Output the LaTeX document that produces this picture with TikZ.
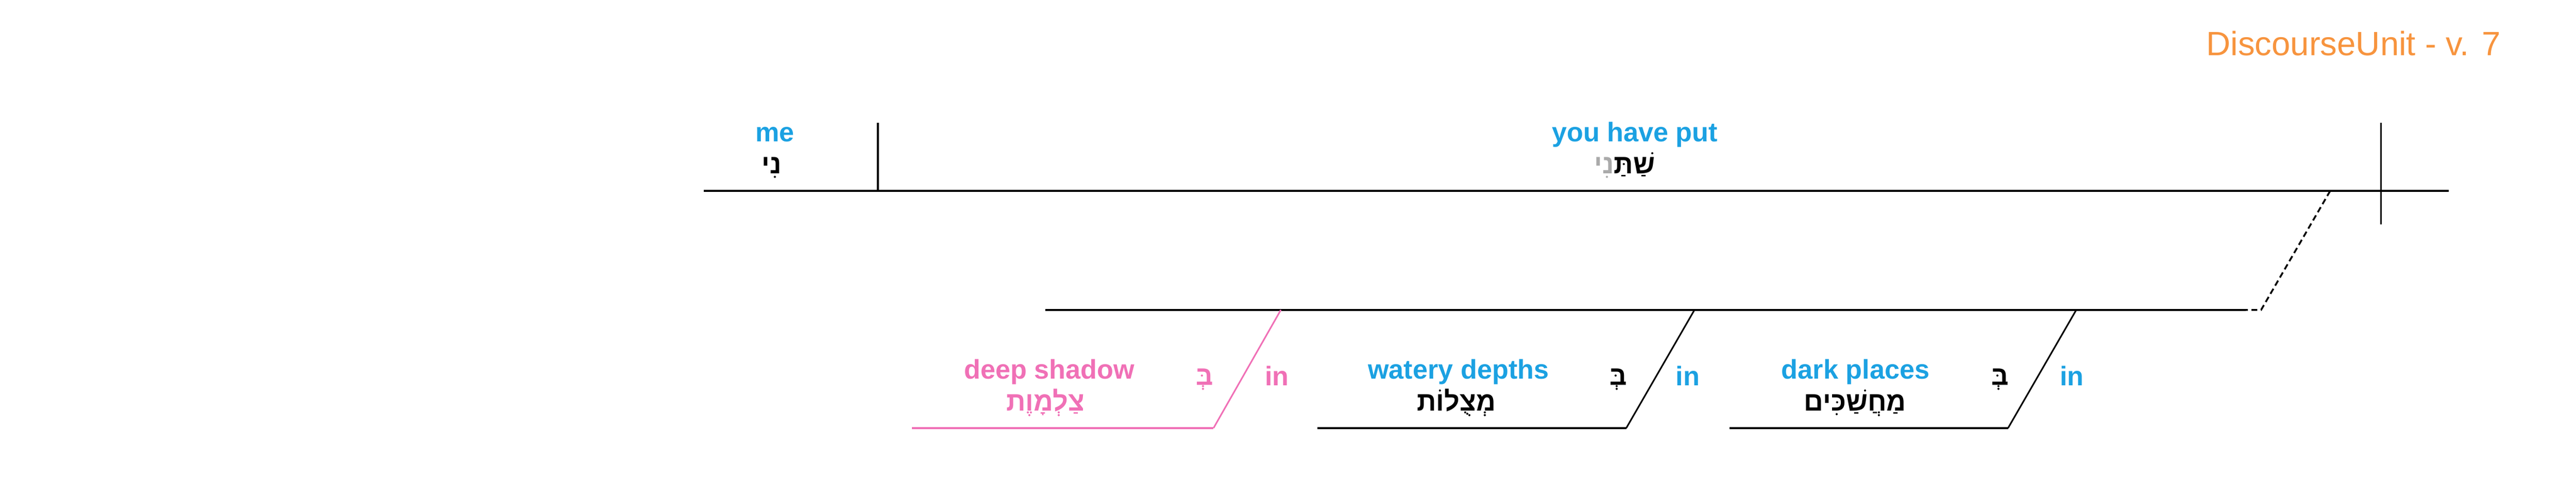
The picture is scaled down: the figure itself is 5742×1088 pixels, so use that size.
\documentclass[tikz,border=0pt]{standalone}
\usepackage{fontspec}
\setmainfont{Liberation Sans}
\newfontfamily\hebfont[Script=Hebrew]{Liberation Sans}
\TeXXeTstate=1
\definecolor{glossblue}{RGB}{27,161,226}
\definecolor{shadowpink}{RGB}{240,112,182}
\definecolor{titleorange}{RGB}{247,148,62}
\definecolor{suffixgray}{RGB}{170,170,170}

\begin{document}
\begin{tikzpicture}[x=1pt,y=-1pt,
    gloss/.style={font=\bfseries\fontsize{60}{72}\selectfont, text=glossblue, anchor=base, inner sep=0pt},
    heb/.style={font=\hebfont\bfseries\fontsize{60}{72}\selectfont, anchor=base, inner sep=0pt},
    rule/.style={line width=4pt},
    slant/.style={line width=3.5pt}]
          \useasboundingbox (0,0) rectangle (5742,1088);

          \node[anchor=base east, inner sep=0pt, text=titleorange, font=\fontsize{75}{90}\selectfont] (title) at (5574,124) {DiscourseUnit - v. 7};

          % main clause
          \node[gloss] (me) at (1727,315) {me};
          \node[heb] (meheb) at (1720,387) {\beginR נִי\endR};
          \node[gloss] (put) at (3644,315) {you have put};
          \node[heb] (putheb) at (3621,387) {\textcolor{suffixgray}{\beginR נִי\endR}\beginR שַׁתַּ\endR};

          \coordinate (topL) at (1569,425);
          \coordinate (topR) at (5458,425);
          \coordinate (sepT) at (1957,273);
          \coordinate (sepB) at (1957,425);
          \coordinate (stemT) at (5307,273);
          \coordinate (stemB) at (5307,500);
          \draw[rule] (topL) -- (topR);
          \draw[rule] (sepT) -- (sepB);
          \draw[rule] (stemT) -- (stemB);

          % modifier line
          \coordinate (dashT) at (5194,425);
          \coordinate (dashB) at (5040,690);
          \coordinate (midL) at (2330,690);
          \coordinate (midR) at (5006,690);
          \draw[rule] (midL) -- (midR);
          \draw[rule, dash pattern=on 13pt off 8pt] (dashT) -- (dashB) -- (midR);

          % in deep shadow
          \coordinate (shT) at (2855,690);
          \coordinate (shB) at (2705,953);
          \coordinate (shL) at (2033,953);
          \draw[slant, shadowpink] (shT) -- (shB);
          \draw[rule, shadowpink] (shB) -- (shL);
          \node[gloss, text=shadowpink] (shadow) at (2339,843) {deep shadow};
          \node[heb, text=shadowpink] (shadowheb) at (2330,915) {\beginR צַלְמָוֶת\endR};
          \node[heb, text=shadowpink] (shprep) at (2685,857) {\beginR בְּ\endR};
          \node[gloss, text=shadowpink] (shin) at (2846,858) {in};

          % in watery depths
          \coordinate (wdT) at (3777,690);
          \coordinate (wdB) at (3625,953);
          \coordinate (wdL) at (2936,953);
          \draw[slant] (wdT) -- (wdB);
          \draw[rule] (wdB) -- (wdL);
          \node[gloss] (depths) at (3251,843) {watery depths};
          \node[heb] (depthsheb) at (3246,915) {\beginR מְצֻלוֹת\endR};
          \node[heb] (wdprep) at (3607,857) {\beginR בְּ\endR};
          \node[gloss] (wdin) at (3762,858) {in};

          % in dark places
          \coordinate (dpT) at (4628,690);
          \coordinate (dpB) at (4476,953);
          \coordinate (dpL) at (3855,953);
          \draw[slant] (dpT) -- (dpB);
          \draw[rule] (dpB) -- (dpL);
          \node[gloss] (places) at (4136,843) {dark places};
          \node[heb] (placesheb) at (4135,915) {\beginR מַחֲשַׁכִּים\endR};
          \node[heb] (dpprep) at (4458,857) {\beginR בְּ\endR};
          \node[gloss] (dpin) at (4618,858) {in};
    \end{tikzpicture}
\end{document}
